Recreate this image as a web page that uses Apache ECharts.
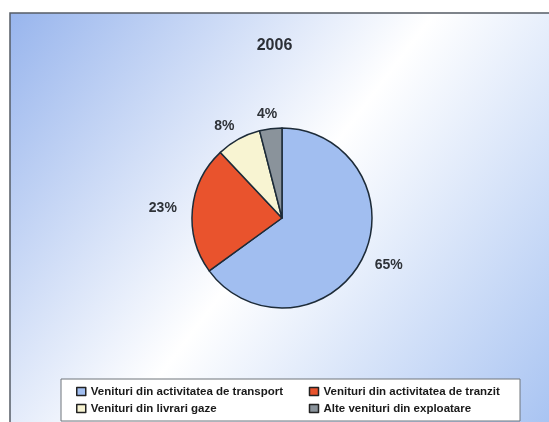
<!DOCTYPE html>
<html>
<head>
<meta charset="utf-8">
<script src="https://cdn.jsdelivr.net/npm/echarts@6/dist/echarts.min.js"></script>
<style>
  html, body { margin: 0; padding: 0; background: #fff; }
  #main { width: 549px; height: 422px; }
</style>
</head>
<body>
<div id="main"></div>
<script>
// date
var titlu = '2006'
var categorii = [
    'Venituri din activitatea de transport',
    'Venituri din activitatea de tranzit',
    'Venituri din livrari gaze',
    'Alte venituri din exploatare',
]
var valori = [65, 23, 8, 4]
var culori = ['#a1bef0', '#e9532d', '#f8f4d2', '#8a939b']

var centru = [282, 218]
var raza = 90

// etichetele stau pe o elipsa in jurul placintei, pe unghiul de mijloc al felei
function pozEticheta(idx) {
    var total = valori.reduce(function (a, b) { return a + b }, 0)
    var inainte = 0
    for (var i = 0; i < idx; i++) inainte += valori[i]
    var theta = (inainte + valori[idx] / 2) / total * Math.PI * 2
    return {
        x: centru[0] + Math.sin(theta) * raza * 1.33,
        y: centru[1] - Math.cos(theta) * raza * 1.16,
    }
}

var myChart = echarts.init(document.getElementById('main'))

var option = {
    backgroundColor: '#ffffff',
    animation: false,
    color: culori,
    textStyle: { fontFamily: 'Liberation Sans, Arial, sans-serif' },
    graphic: [
        {
            type: 'rect',
            z: -10,
            shape: { x: 10, y: 13, width: 539, height: 409 },
            style: {
                fill: new echarts.graphic.LinearGradient(0, 0, 1, 1, [
                    { offset: 0, color: '#98b5ed' },
                    { offset: 0.5, color: '#ffffff' },
                    { offset: 1, color: '#a9c4f2' },
                ]),
                stroke: null,
            },
        },
        {
            type: 'polyline',
            z: -5,
            shape: { points: [[10, 422], [10, 13], [549, 13]] },
            style: { stroke: '#555c66', lineWidth: 1.5, fill: null },
        },
        {
            type: 'rect',
            z: -4,
            shape: { x: 61, y: 379, width: 459, height: 42 },
            style: { fill: '#ffffff', stroke: '#6e747a', lineWidth: 1 },
        },
    ],
    title: {
        text: titlu,
        left: 'center',
        top: 33,
        textStyle: { fontSize: 16, fontWeight: 'bold', color: '#2b2f36' },
    },
    legend: {
        data: categorii,
        left: 71,
        top: 380,
        width: 470,
        orient: 'horizontal',
        icon: 'rect',
        itemWidth: 9,
        itemHeight: 8,
        itemGap: 4,
        itemStyle: { borderColor: '#222', borderWidth: 1.5 },
        textStyle: {
            fontSize: 11.5,
            fontWeight: 'bold',
            lineHeight: 13,
            width: 214,
            color: '#1a1a1a',
        },
    },
    series: [
        {
            type: 'pie',
            center: centru,
            radius: raza,
            startAngle: 90,
            clockwise: true,
            data: categorii.map(function (n, i) {
                return { name: n, value: valori[i] }
            }),
            itemStyle: { borderColor: '#1d2b38', borderWidth: 1.5 },
            label: {
                show: true,
                position: 'outside',
                formatter: '{c}%',
                fontSize: 14,
                fontWeight: 'bold',
                color: '#2e3238',
            },
            labelLine: { show: false },
            labelLayout: function (params) {
                var p = pozEticheta(params.dataIndex)
                return { x: p.x, y: p.y, align: 'center', verticalAlign: 'middle' }
            },
            emphasis: { disabled: true },
        },
    ],
}

myChart.setOption(option)
</script>
</body>
</html>
